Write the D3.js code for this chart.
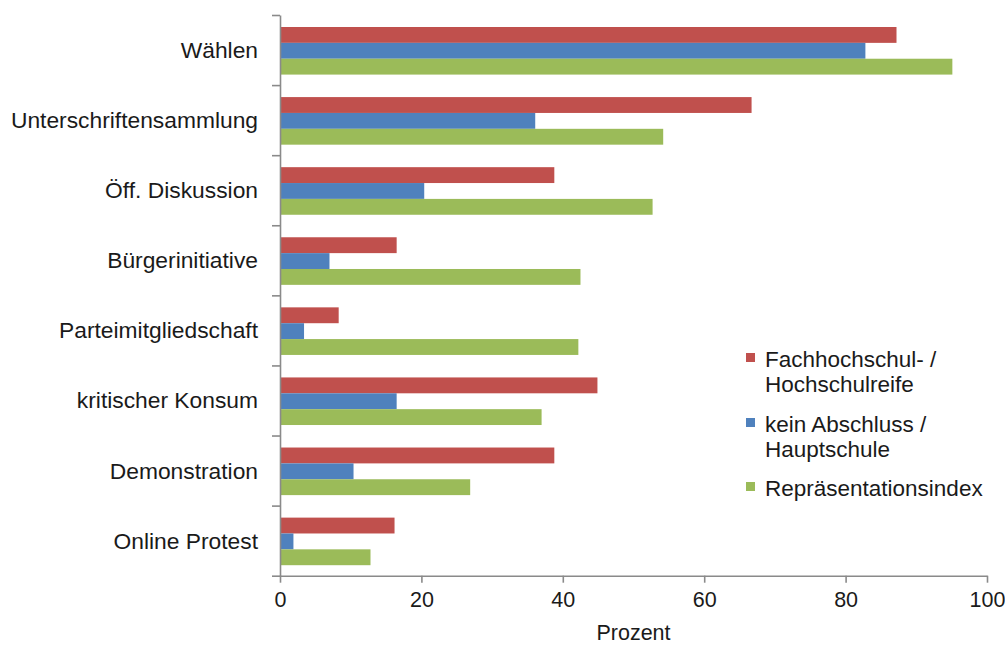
<!DOCTYPE html>
<meta charset="utf-8">
<style>
body { margin: 0; background: #fff; }
text { font-family: "Liberation Sans", Arial, sans-serif; fill: #1a1a1a; }
.axis path, .axis line { stroke: #8a8a8a; stroke-width: 1.6px; }
</style>
<body>
<script src="https://d3js.org/d3.v7.min.js"></script>
<script>

// categories (top to bottom)
var categories = ["Wählen", "Unterschriftensammlung", "Öff. Diskussion", "Bürgerinitiative",
                  "Parteimitgliedschaft", "kritischer Konsum", "Demonstration", "Online Protest"];

// series values (Prozent)
var hochschulreife = [87.2, 66.7, 38.8, 16.5, 8.3, 44.9, 38.8, 16.2];
var hauptschule    = [82.8, 36.1, 20.4, 7.0, 3.4, 16.5, 10.4, 1.9];
var repraesentation = [95.1, 54.2, 52.7, 42.5, 42.2, 37.0, 26.9, 12.8];

var seriesNames = ["hochschulreife", "hauptschule", "repraesentation"];
var seriesLabels = [["Fachhochschul- /", "Hochschulreife"], ["kein Abschluss /", "Hauptschule"], ["Repräsentationsindex"]];
var seriesColors = ["#C0504D", "#4F81BD", "#9BBB59"];
var xTicks = [0, 20, 40, 60, 80, 100];

var values = {hochschulreife: hochschulreife, hauptschule: hauptschule, repraesentation: repraesentation};

var width = 1005, height = 646;
var plot = {left: 280, right: 987, top: 15, bottom: 575.7};

var svg = d3.select("body").append("svg")
    .attr("width", width)
    .attr("height", height);

// scales
var x = d3.scaleLinear().domain([0, 100]).range([plot.left, plot.right]);
var y = d3.scaleBand().domain(categories).range([plot.top, plot.bottom]);
var yInner = d3.scaleBand().domain(seriesNames).range([12, y.bandwidth() - 10.5]);

// bars
seriesNames.forEach(function(s, si) {
  svg.append("g")
    .selectAll("rect")
    .data(categories)
    .join("rect")
      .attr("x", x(0))
      .attr("y", function(d) { return y(d) + yInner(s); })
      .attr("width", function(d, i) { return x(values[s][i]) - x(0); })
      .attr("height", yInner.bandwidth())
      .attr("fill", seriesColors[si]);
});

// y axis: ticks at band boundaries
var yIdx = d3.scaleLinear().domain([0, categories.length]).range([plot.top, plot.bottom]);
svg.append("g")
    .attr("class", "axis")
    .attr("transform", "translate(" + plot.left + ",0)")
    .call(d3.axisLeft(yIdx).tickValues(d3.range(0, categories.length + 1)).tickSize(8).tickSizeOuter(0).tickFormat(""));

// category labels
svg.append("g")
  .selectAll("text")
  .data(categories)
  .join("text")
    .attr("x", 258)
    .attr("y", function(d) { return y(d) + y.bandwidth() / 2; })
    .attr("dy", "0.35em")
    .attr("text-anchor", "end")
    .attr("font-size", "22.8px")
    .text(function(d) { return d; });

// x axis
var xAxis = svg.append("g")
    .attr("class", "axis")
    .attr("transform", "translate(0," + plot.bottom + ")")
    .call(d3.axisBottom(x).tickValues(xTicks).tickSize(7).tickSizeOuter(0).tickPadding(9));
xAxis.selectAll("text")
    .attr("font-size", "21.5px")
    .attr("font-family", "Liberation Sans, Arial, sans-serif")
    .attr("fill", "#1a1a1a");

svg.append("text")
    .attr("x", (plot.left + plot.right) / 2)
    .attr("y", 640)
    .attr("text-anchor", "middle")
    .attr("font-size", "21.5px")
    .text("Prozent");

// legend
var legendY = [367, 432, 496];
var legend = svg.append("g");
seriesNames.forEach(function(s, si) {
  legend.append("rect")
    .attr("x", 746)
    .attr("y", legendY[si] - 14)
    .attr("width", 9)
    .attr("height", 9)
    .attr("fill", seriesColors[si]);
  var t = legend.append("text")
    .attr("x", 765)
    .attr("y", legendY[si])
    .attr("font-size", "22.5px");
  seriesLabels[si].forEach(function(line, li) {
    t.append("tspan")
      .attr("x", 765)
      .attr("dy", li === 0 ? 0 : 25)
      .text(line);
  });
});

</script>
